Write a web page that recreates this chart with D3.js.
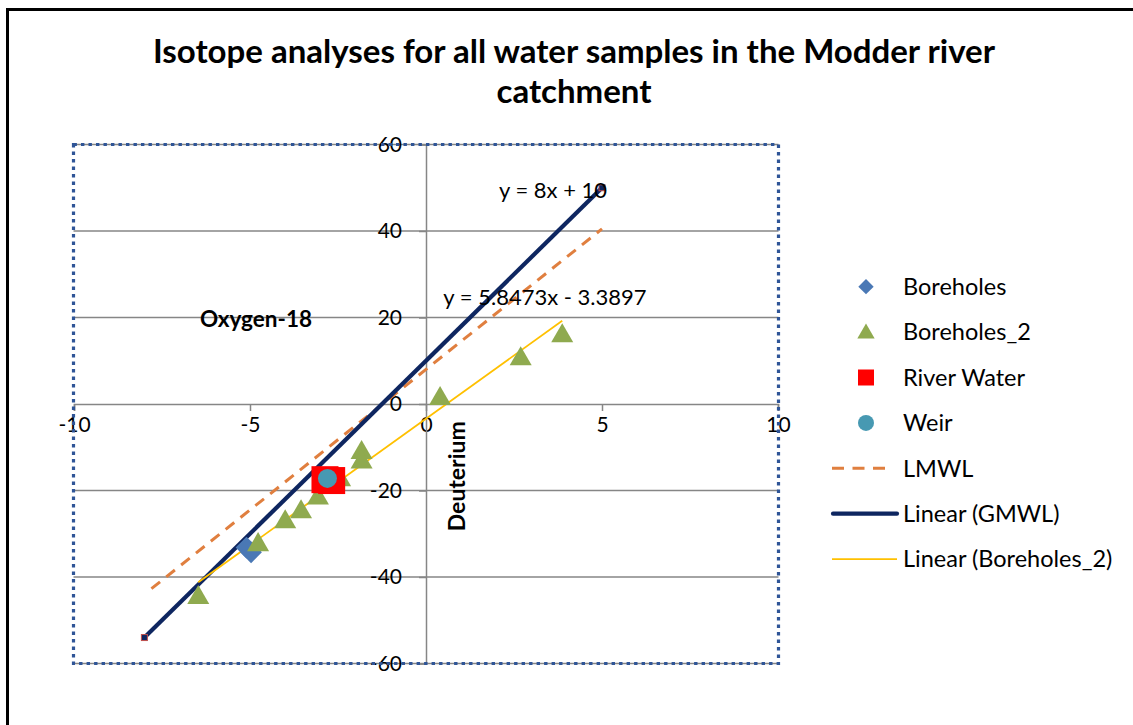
<!DOCTYPE html>
<html>
<head>
<meta charset="utf-8">
<script src="https://cdn.jsdelivr.net/npm/d3@7"></script>
<style>
  html, body { margin: 0; padding: 0; background: #fff; }
  svg { display: block; font-family: Lato, "Open Sans", sans-serif; }
</style>
</head>
<body>
<svg id="chart" width="1133" height="725"></svg>
<script>
// ---------------- data ----------------
const titleLines = ["Isotope analyses for all water samples in the Modder river", "catchment"];
const xTicks = [-10, -5, 0, 5, 10];
const yTicks = [60, 40, 20, 0, -20, -40, -60];
const xTickLabels = ["-10", "-5", "0", "5", "10"];
const yTickLabels = ["60", "40", "20", "0", "-20", "-40", "-60"];

const boreholes = [[-5.1, -33.2], [-4.97, -34.3]];
const boreholes2 = [[-6.47, -44.3], [-4.77, -32.1], [-4.0, -26.8], [-3.55, -24.5], [-3.07, -21.3],
                    [-2.44, -17.1], [-1.83, -10.8], [-1.83, -13.0], [0.4, 1.7], [2.69, 10.9], [3.87, 16.2]];
const riverWater = [[-2.87, -17.5], [-2.68, -17.7]];
const weir = [[-2.8, -17.2]];
const gmwl = [[-8, -54], [5, 50]];
const lmwl = [[-7.8, -42.7], [5, 40.5]];
const trendSlope = 5.8473, trendIntercept = -3.3897;
const gmwlEquation = "y = 8x + 10";
const trendEquation = "y = 5.8473x - 3.3897";
const legendItems = ["Boreholes", "Boreholes_2", "River Water", "Weir", "LMWL", "Linear (GMWL)", "Linear (Boreholes_2)"];

// ---------------- setup ----------------
const svg = d3.select("#chart");
const C = {
  navy: "#0E2660", orange: "#E07F3F", yellow: "#FFC000", green: "#8FAA4F",
  blue: "#4A78B5", teal: "#4799B2", red: "#FF0000", grid: "#868686", dots: "#2F5597"
};
const plot = { left: 73.5, right: 778.5, top: 144.5, bottom: 663.5 };
const x = d3.scaleLinear().domain([-10, 10]).range([plot.left + 0.5, plot.right - 0.5]);
const y = d3.scaleLinear().domain([-60, 60]).range([plot.bottom, plot.top]);

// outer chart border
svg.append("rect").attr("x", 7.5).attr("y", 9.5).attr("width", 1140).attr("height", 740)
  .attr("fill", "none").attr("stroke", "#000").attr("stroke-width", 3);

// title
svg.append("g").selectAll("text").data(titleLines).join("text")
  .attr("x", 574).attr("y", (d, i) => 63 + i * 40)
  .attr("text-anchor", "middle").attr("font-weight", "bold").attr("font-size", 33)
  .attr("fill", "#000").text(d => d);

// horizontal gridlines
svg.append("g").selectAll("line").data(yTicks.filter(v => v !== 0)).join("line")
  .attr("x1", plot.left).attr("x2", plot.right)
  .attr("y1", d => y(d)).attr("y2", d => y(d))
  .attr("stroke", C.grid).attr("stroke-width", 1.5);

// x axis at y = 0
const xAxis = d3.axisBottom(x).tickValues(xTicks).tickSize(7).tickPadding(10)
  .tickFormat((d, i) => xTickLabels[i]);
const gx = svg.append("g").attr("transform", `translate(0,${y(0)})`).call(xAxis);
gx.select(".domain").attr("stroke", C.grid).attr("stroke-width", 1.5);
gx.selectAll(".tick line").attr("stroke", C.grid).attr("stroke-width", 1.5);
gx.selectAll(".tick text").attr("font-size", 21).attr("font-family", "Lato").attr("fill", "#000")
  .attr("dy", "0.5em");

// y axis at x = 0
const yAxis = d3.axisLeft(y).tickValues(yTicks).tickSize(7).tickPadding(17)
  .tickFormat((d, i) => yTickLabels[i]);
const gy = svg.append("g").attr("transform", `translate(${x(0)},0)`).call(yAxis);
gy.select(".domain").attr("stroke", C.grid).attr("stroke-width", 1.5);
gy.selectAll(".tick line").attr("stroke", C.grid).attr("stroke-width", 1.5);
gy.selectAll(".tick text").attr("font-size", 21).attr("font-family", "Lato").attr("fill", "#000");

// dotted plot-area border
svg.append("rect").attr("x", plot.left).attr("y", plot.top)
  .attr("width", plot.right - plot.left).attr("height", plot.bottom - plot.top)
  .attr("fill", "none").attr("stroke", C.dots).attr("stroke-width", 3.2)
  .attr("stroke-dasharray", "3.4,4.1");

// axis titles
svg.append("text").attr("x", x(-4.83)).attr("y", y(19.6)).attr("dy", "0.35em")
  .attr("text-anchor", "middle").attr("font-weight", "bold").attr("font-size", 22.5)
  .text("Oxygen-18");
svg.append("text").attr("transform", `translate(${x(0.88)},${y(-16.7)}) rotate(-90)`)
  .attr("dy", "0.35em").attr("text-anchor", "middle").attr("font-weight", "bold").attr("font-size", 23)
  .text("Deuterium");

const line = d3.line().x(d => x(d[0])).y(d => y(d[1]));

// LMWL dashed
svg.append("path").datum(lmwl).attr("d", line).attr("fill", "none")
  .attr("stroke", C.orange).attr("stroke-width", 3).attr("stroke-dasharray", "11,8");

// GMWL line
svg.append("path").datum(gmwl).attr("d", line).attr("fill", "none")
  .attr("stroke", C.navy).attr("stroke-width", 4.2);
svg.append("g").selectAll("rect").data(gmwl).join("rect")
  .attr("x", d => x(d[0]) - 3).attr("y", d => y(d[1]) - 3).attr("width", 6).attr("height", 6)
  .attr("fill", C.navy).attr("stroke", "#C0504D").attr("stroke-width", 1);

// Boreholes_2 trendline
const xExt = d3.extent(boreholes2, d => d[0]);
const trend = xExt.map(v => [v, trendSlope * v + trendIntercept]);
svg.append("path").datum(trend).attr("d", line).attr("fill", "none")
  .attr("stroke", C.yellow).attr("stroke-width", 1.8);

// markers
const sym = (type, size) => d3.symbol().type(type).size(size)();
svg.append("g").selectAll("path").data(boreholes).join("path")
  .attr("transform", d => `translate(${x(d[0])},${y(d[1])})`)
  .attr("d", sym(d3.symbolDiamond2, 300)).attr("fill", C.blue);
svg.append("g").selectAll("path").data(boreholes2).join("path")
  .attr("transform", d => `translate(${x(d[0])},${y(d[1]) + 2})`)
  .attr("d", sym(d3.symbolTriangle, 210)).attr("fill", C.green);
svg.append("g").selectAll("rect").data(riverWater).join("rect")
  .attr("x", d => x(d[0]) - 13.5).attr("y", d => y(d[1]) - 13.5)
  .attr("width", 27).attr("height", 27).attr("fill", C.red);
svg.append("g").selectAll("circle").data(weir).join("circle")
  .attr("cx", d => x(d[0])).attr("cy", d => y(d[1])).attr("r", 9.5).attr("fill", C.teal);

// equations
svg.append("text").attr("x", x(3.61)).attr("y", y(49.4)).attr("dy", "0.35em")
  .attr("text-anchor", "middle").attr("font-size", 22).text(gmwlEquation);
svg.append("text").attr("x", x(3.38)).attr("y", y(24.7)).attr("dy", "0.35em")
  .attr("text-anchor", "middle").attr("font-size", 22).text(trendEquation);

// legend
const lg = svg.append("g");
const rowY = i => 286.7 + i * 45.4;
const mx = 866;
lg.append("path").attr("transform", `translate(${mx},${rowY(0)})`).attr("d", sym(d3.symbolDiamond2, 150)).attr("fill", C.blue);
lg.append("path").attr("transform", `translate(${mx},${rowY(1) + 1.5})`).attr("d", sym(d3.symbolTriangle, 130)).attr("fill", C.green);
lg.append("rect").attr("x", mx - 8).attr("y", rowY(2) - 8).attr("width", 16).attr("height", 16).attr("fill", C.red);
lg.append("circle").attr("cx", mx).attr("cy", rowY(3)).attr("r", 8).attr("fill", C.teal);
lg.append("line").attr("x1", 832).attr("x2", 886).attr("y1", rowY(4)).attr("y2", rowY(4))
  .attr("stroke", C.orange).attr("stroke-width", 3).attr("stroke-dasharray", "12,8.5");
lg.append("line").attr("x1", 833).attr("x2", 897).attr("y1", rowY(5)).attr("y2", rowY(5))
  .attr("stroke", C.navy).attr("stroke-width", 4.2).attr("stroke-linecap", "round");
lg.append("line").attr("x1", 832).attr("x2", 897).attr("y1", rowY(6)).attr("y2", rowY(6))
  .attr("stroke", C.yellow).attr("stroke-width", 1.8);
lg.selectAll("text").data(legendItems).join("text")
  .attr("x", 903).attr("y", (d, i) => rowY(i)).attr("dy", "0.35em")
  .attr("font-size", 23.5).attr("fill", "#000").text(d => d);
</script>
</body>
</html>
